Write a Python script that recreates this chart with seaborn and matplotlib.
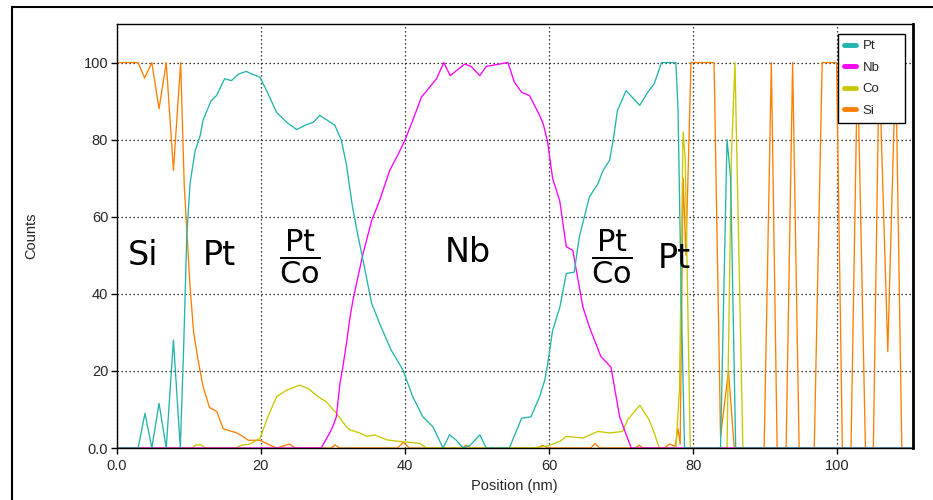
import matplotlib
matplotlib.use("Agg")
import matplotlib.pyplot as plt
from matplotlib import font_manager
from matplotlib.patches import Rectangle
from matplotlib.lines import Line2D
import seaborn as sns
import pandas as pd

# ---- depth profile data (position in nm, normalised counts) ----
pt_pos = [0, 3.0, 3.95, 4.9, 5.9, 6.9, 7.9, 8.85, 9.3, 9.75, 10.2, 10.9, 11.6, 12.0,
          13.1, 13.9, 15.0, 15.95, 16.9, 18.0, 18.7, 19.9, 21.0, 22.2, 23.6, 25.0,
          26.1, 27.3, 28.2, 29.1, 30.3, 31.2, 31.9, 32.7, 33.4, 34.2, 35.4, 36.5,
          38.1, 39.75, 41.1, 42.5, 43.9, 45.3, 46.2, 47.1, 48.1, 49.0, 50.4, 51.3,
          54.5, 56.2, 57.5, 58.7, 59.4, 59.8, 60.5, 61.5, 62.4, 63.5, 64.2, 64.9,
          65.6, 66.8, 67.5, 68.4, 68.9, 69.5, 70.7, 72.6, 73.7, 74.6, 75.6, 77.6,
          77.9, 78.2, 78.45, 78.8, 83.8, 84.7, 85.2, 85.9, 110.5]
pt_counts = [0, 0, 9, 0, 11.6, 0, 28, 0, 25, 55, 68.6, 77, 81, 85,
             90, 91.5, 95.8, 95.3, 97, 97.7, 97.1, 96.2, 92, 87.1, 84.5, 82.6,
             83.7, 84.5, 86.3, 85.2, 83.7, 79.8, 73.5, 63, 56, 48.7, 37.5, 32.3,
             25.4, 20.2, 13.3, 8.1, 5.5, 0, 3.4, 2.1, 0, 0.6, 3.4, 0,
             0, 7.7, 8.1, 13.3, 17.5, 21.5, 30.5, 36.5, 45.3, 45.6, 54.7, 59.9,
             65.1, 68.6, 72, 74.6, 79.8, 87.6, 92.7, 88.9, 92.3, 94.5, 100, 100,
             88, 55, 30, 0, 0, 80, 70, 0, 0]

nb_pos = [0, 28.4, 29.6, 30.0, 30.5, 31.0, 31.4, 31.9, 32.4, 32.8, 33.3, 34.2,
          35.4, 36.5, 37.9, 39.1, 40.0, 41.1, 42.3, 44.4, 45.4, 46.3, 48.3, 49.2,
          50.4, 51.3, 54.3, 55.2, 56.2, 57.3, 58.7, 59.2, 59.8, 60.5, 61.5, 62.4,
          63.3, 64.7, 65.6, 67.2, 68.6, 69.8, 71.4, 110.5]
nb_counts = [0, 0, 4, 5.5, 8.1, 16.8, 21, 27.1, 34, 38.3, 42.7, 50.4,
             59, 64.2, 72, 76.3, 79.8, 85, 91, 95.8, 100, 96.6, 99.6, 99,
             96.6, 99, 100, 94.9, 92.3, 91.4, 86.3, 84.1, 79.5, 70, 64, 52.2,
             51.3, 36.6, 31.4, 23.7, 21, 8.1, 0, 0]

co_pos = [0, 10.5, 11.0, 11.8, 12.3, 16.5, 17.5, 18.5, 19.9, 21.0, 22.2, 23.6,
          25.4, 26.6, 28.0, 29.1, 30.5, 31.9, 32.4, 33.75, 34.7, 35.8, 37.5,
          39.3, 42.1, 43.0, 57.5, 59.8, 60.5, 61.5, 62.4, 64.7, 66.8, 68.4,
          70.2, 70.9, 72.6, 73.9, 74.6, 75.3, 77.6, 78.1, 78.6, 78.9, 79.6,
          84.7, 85.3, 85.8, 86.9, 110.5]
co_counts = [0, 0, 0.8, 0.8, 0, 0, 0.8, 1, 2.5, 8.1, 13.3, 15,
             16.3, 15.4, 13.3, 12, 9, 5.5, 4.7, 3.9, 3.0, 3.4, 2.1,
             1.7, 1.2, 0, 0, 0.5, 1, 1.7, 3, 2.6, 4.3, 3.9,
             4.3, 7.3, 11.1, 7.3, 3.9, 0, 0, 15, 82, 75, 0,
             0, 75, 100, 0, 0]

si_pos = [0, 3.0, 3.9, 4.9, 5.9, 6.9, 7.9, 8.9, 9.4, 9.8, 10.2, 10.7, 11.3,
          12.0, 12.9, 13.9, 14.8, 15.8, 16.6, 17.5, 18.3, 19.9, 21.0, 22.2,
          24.0, 24.8, 29.8, 30.3, 31.0, 39.0, 39.8, 40.6, 48.0, 48.5, 49.2,
          58.5, 59.1, 59.8, 65.8, 66.4, 67.0, 72.0, 72.5, 73.0, 76.0, 76.7,
          77.5, 77.9, 78.2, 78.6, 79.0, 79.7, 82.9, 83.8, 84.9, 85.7,
          89.85, 90.85, 91.65, 92.9, 93.8, 94.7, 96.8, 97.9, 99.9, 100.7,
          101.9, 102.8, 103.9, 105.0, 105.8, 107.0, 108.1, 108.95, 110.5]
si_counts = [100, 100, 96, 100, 88, 100, 72, 100, 68, 55, 42, 30, 23,
             16, 10.5, 9.5, 5, 4.4, 4, 3, 2, 2, 1, 0,
             1, 0, 0, 0.8, 0, 0, 1.5, 0, 0, 0.7, 0,
             0, 0.7, 0, 0, 1.2, 0, 0, 0.7, 0, 0, 1,
             0.5, 5, 1, 70, 50, 100, 100, 3, 20, 0,
             0, 100, 0, 0, 100, 0, 0, 100, 100, 0,
             0, 100, 0, 0, 100, 25, 100, 0, 0]

elements = ["Pt", "Nb", "Co", "Si"]
x_ticks = [0, 20, 40, 60, 80, 100]
x_tick_labels = ["0.0", "20", "40", "60", "80", "100"]
y_ticks = [0, 20, 40, 60, 80, 100]
y_tick_labels = ["0.0", "20", "40", "60", "80", "100"]

colors = {"Pt": "#22b5ad", "Nb": "#ff00ff", "Co": "#c8c800", "Si": "#ff8000"}

sns.set_style("ticks")
available = {f.name for f in font_manager.fontManager.ttflist}
tick_font = "Liberation Sans Narrow" if "Liberation Sans Narrow" in available else "Liberation Sans"
plt.rcParams["font.family"] = [tick_font, "DejaVu Sans"]
plt.rcParams["mathtext.fontset"] = "dejavusans"

fig = plt.figure(figsize=(9.33, 5.0), dpi=100)
ax = fig.add_axes([116.5 / 933, 52 / 500, (913 - 116.5) / 933, (448 - 24) / 500])

# outer panel frame
fig.patches.append(Rectangle((12 / 933, -0.2), 1.2, 1.2 - 7 / 500, transform=fig.transFigure,
                             fill=False, edgecolor="black", linewidth=1.5))

# drawn back to front so that Pt sits on top at the zero line
series = [("Si", si_pos, si_counts), ("Co", co_pos, co_counts),
          ("Nb", nb_pos, nb_counts), ("Pt", pt_pos, pt_counts)]
for name, xs, ys in series:
    df = pd.DataFrame({"Position": xs, "Counts": ys})
    sns.lineplot(data=df, x="Position", y="Counts", ax=ax, color=colors[name],
                 linewidth=0.95, estimator=None, sort=False, label=name, legend=False)

ax.set_xlim(0, 110.5)
ax.set_ylim(0, 110)
ax.set_xticks(x_ticks)
ax.set_xticklabels(x_tick_labels)
ax.set_yticks(y_ticks)
ax.set_yticklabels(y_tick_labels)
ax.tick_params(axis="both", labelsize=10.5, length=4, width=1, color="black")
ax.tick_params(axis="x", pad=4)
ax.tick_params(axis="y", pad=2)
for s in ax.spines.values():
    s.set_color("black")
    s.set_linewidth(1.0)
ax.spines["right"].set_linewidth(2.0)

ax.grid(True, color="black", linestyle=(0, (1, 2.2)), linewidth=0.9)
ax.set_axisbelow(True)

ax.set_xlabel("Position (nm)", fontsize=10.5, labelpad=4)
ax.set_ylabel("Counts", fontsize=10.5)
ax.yaxis.set_label_coords(-0.0986, 0.5)

# layer annotations
big = dict(fontsize=24, family="DejaVu Sans", ha="center", va="center", color="black")
ax.text(3.7, 50, "Si", **big)
ax.text(14.3, 50, "Pt", **big)
ax.text(48.7, 50.8, "Nb", **big)
ax.text(77.4, 49.2, "Pt", **big)
frac = dict(fontsize=22, ha="center", va="center", color="black")
pt_co = r"$\genfrac{}{}{2.6}{0}{\mathrm{Pt}}{\mathrm{Co}}$"
ax.text(25.4, 49.7, pt_co, **frac)
ax.text(68.8, 49.7, pt_co, **frac)

handles = [Line2D([], [], color=colors[n], linewidth=3.5) for n in elements]
leg = ax.legend(handles, elements, loc="upper left", mode="expand",
                bbox_to_anchor=(838 / 933, 1 - 120 / 500, 67 / 933, 86 / 500),
                bbox_transform=fig.transFigure,
                borderaxespad=0, fontsize=9.5, handlelength=0.9, handletextpad=0.5,
                labelspacing=0.7, borderpad=0.45, fancybox=False, framealpha=1,
                edgecolor="black")
leg.get_frame().set_linewidth(1.0)

fig.savefig("out.png", dpi=100)
